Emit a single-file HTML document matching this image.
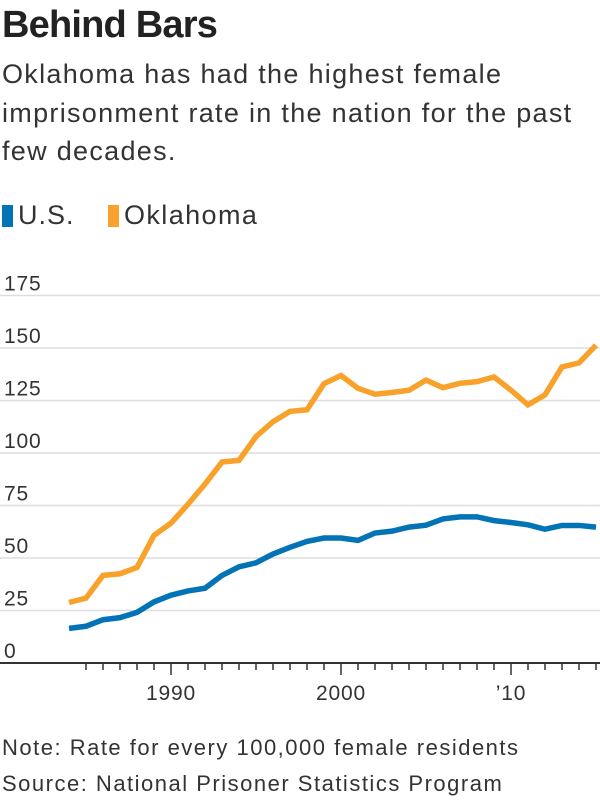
<!DOCTYPE html>
<html><head><meta charset="utf-8"><style>
body{margin:0;width:600px;height:800px;background:#fff;font-family:"Liberation Sans",sans-serif;color:#222;position:relative;overflow:hidden}
.t{position:absolute;left:2px;white-space:nowrap}
</style></head><body>
<div class="t" style="top:4px;font-size:38px;font-weight:bold;letter-spacing:-0.8px">Behind Bars</div>
<div class="t" style="top:55px;font-size:27px;line-height:38.5px;letter-spacing:1.3px;color:#333">Oklahoma has had the highest female<br>imprisonment rate in the nation for the past<br>few decades.</div>
<div class="t" style="top:200px;font-size:27px;letter-spacing:1px;color:#333"><span style="display:inline-block;width:11px;height:22px;background:#0274b6;vertical-align:-3px;margin-right:5px"></span>U.S.</div>
<div class="t" style="top:200px;left:108px;font-size:27px;letter-spacing:1.4px;color:#333"><span style="display:inline-block;width:11px;height:22px;background:#f8a22b;vertical-align:-3px;margin-right:5px"></span>Oklahoma</div>
<svg id="c" width="600" height="720" style="position:absolute;left:0;top:0"></svg>
<div class="t" style="top:735px;font-size:22px;letter-spacing:1.5px;color:#333">Note: Rate for every 100,000 female residents</div>
<div class="t" style="top:771px;font-size:22px;letter-spacing:1.5px;color:#333">Source: National Prisoner Statistics Program</div>
<script>
const years=[1984,1985,1986,1987,1988,1989,1990,1991,1992,1993,1994,1995,1996,1997,1998,1999,2000,2001,2002,2003,2004,2005,2006,2007,2008,2009,2010,2011,2012,2013,2014,2015];
const usValues=[16.5,17.5,20.6,21.6,24.1,29.1,32.3,34.3,35.6,41.7,45.8,47.7,51.9,55.1,57.9,59.5,59.5,58.4,61.9,62.8,64.7,65.6,68.6,69.6,69.6,67.8,66.9,65.8,63.7,65.5,65.5,64.7];
const okValues=[28.8,30.9,41.7,42.5,45.5,60.8,66.6,75.6,85.2,95.7,96.5,107.8,114.9,119.8,120.6,133,136.9,130.8,128,128.8,129.9,134.7,131.1,133.2,134,136.2,129.9,122.9,127.7,141,142.9,151.3];
const yTicks=[0,25,50,75,100,125,150,175];
const xLabels=[[1990,"1990"],[2000,"2000"],[2010,"\u201910"]];
const NS="http://www.w3.org/2000/svg",svg=document.getElementById('c');
const x=yr=>69+(yr-1984)*17.0;
const y=v=>663-v*2.1;
function mk(t,a){const e=document.createElementNS(NS,t);for(const k in a)e.setAttribute(k,a[k]);svg.appendChild(e);return e;}
yTicks.forEach(v=>{
 if(v>0){const g=mk('line',{x1:0,x2:600,y1:y(v),y2:y(v),stroke:'#ddd','stroke-width':1.5});
 
 }
 const t=mk('text',{x:4,y:y(v)-5,'font-size':21,'letter-spacing':0.8,fill:'#333','font-family':'Liberation Sans, sans-serif'});t.textContent=v;
 
 
});
const ax=mk('line',{x1:0,x2:600,y1:663,y2:663,stroke:'#333','stroke-width':2});


for(let yr=1985;yr<=2015;yr++){const maj=yr%10==0;
 const tk=mk('line',{x1:x(yr),x2:x(yr),y1:663,y2:maj?675:670,stroke:'#333','stroke-width':1.5});
 
 }
xLabels.forEach(([yr,l])=>{const t=mk('text',{x:x(yr),y:700,'font-size':21,'letter-spacing':0.8,fill:'#333','text-anchor':'middle','font-family':'Liberation Sans, sans-serif'});t.textContent=l;
 
 });
function line(vals,col,name){const p=mk('polyline',{points:vals.map((v,i)=>x(years[i])+','+y(v)).join(' '),fill:'none',stroke:col,'stroke-width':5.5,'stroke-linejoin':'miter'});
 
 }
line(usValues,'#0274b6','us-line');
line(okValues,'#f8a22b','oklahoma-line');
</script>
</body></html>
